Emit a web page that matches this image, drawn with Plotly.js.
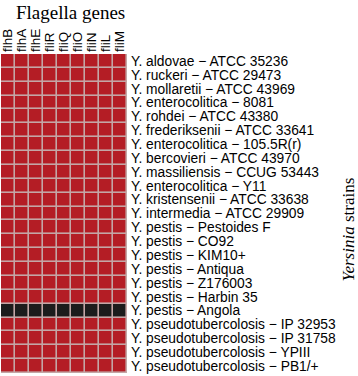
<!DOCTYPE html>
<html><head><meta charset="utf-8">
<script src="https://cdn.plot.ly/plotly-3.0.1.min.js"></script>
<style>html,body{margin:0;padding:0;background:#fff;}#chart{width:358px;height:376px;}</style>
</head><body><div id="chart"></div>
<script>
const genes = ["flhB","flhA","flhE","fliR","fliQ","fliO","fliN","fliL","fliM"];
const strains = [
  "Y. aldovae − ATCC 35236",
  "Y. ruckeri − ATCC 29473",
  "Y. mollaretii − ATCC 43969",
  "Y. enterocolitica − 8081",
  "Y. rohdei − ATCC 43380",
  "Y. frederiksenii − ATCC 33641",
  "Y. enterocolitica − 105.5R(r)",
  "Y. bercovieri − ATCC 43970",
  "Y. massiliensis − CCUG 53443",
  "Y. enterocolitica − Y11",
  "Y. kristensenii − ATCC 33638",
  "Y. intermedia − ATCC 29909",
  "Y. pestis − Pestoides F",
  "Y. pestis − CO92",
  "Y. pestis − KIM10+",
  "Y. pestis − Antiqua",
  "Y. pestis − Z176003",
  "Y. pestis − Harbin 35",
  "Y. pestis − Angola",
  "Y. pseudotubercolosis − IP 32953",
  "Y. pseudotubercolosis − IP 31758",
  "Y. pseudotubercolosis − YPIII",
  "Y. pseudotubercolosis − PB1/+"
];
// 1 = gene present, 0 = absent
const presence = [
  [1,1,1,1,1,1,1,1,1],
  [1,1,1,1,1,1,1,1,1],
  [1,1,1,1,1,1,1,1,1],
  [1,1,1,1,1,1,1,1,1],
  [1,1,1,1,1,1,1,1,1],
  [1,1,1,1,1,1,1,1,1],
  [1,1,1,1,1,1,1,1,1],
  [1,1,1,1,1,1,1,1,1],
  [1,1,1,1,1,1,1,1,1],
  [1,1,1,1,1,1,1,1,1],
  [1,1,1,1,1,1,1,1,1],
  [1,1,1,1,1,1,1,1,1],
  [1,1,1,1,1,1,1,1,1],
  [1,1,1,1,1,1,1,1,1],
  [1,1,1,1,1,1,1,1,1],
  [1,1,1,1,1,1,1,1,1],
  [1,1,1,1,1,1,1,1,1],
  [1,1,1,1,1,1,1,1,1],
  [0,0,0,0,0,0,0,0,0],
  [1,1,1,1,1,1,1,1,1],
  [1,1,1,1,1,1,1,1,1],
  [1,1,1,1,1,1,1,1,1],
  [1,1,1,1,1,1,1,1,1]
];

const trace = {
  type: "heatmap",
  x: genes,
  y: strains,
  z: presence,
  zmin: 0, zmax: 1,
  colorscale: [[0, "#1c1c1c"], [0.5, "#1c1c1c"], [0.5, "#b41d25"], [1, "#b41d25"]],
  showscale: false,
  xgap: 1.6, ygap: 1.6,
  hoverinfo: "x+y"
};

const layout = {
  width: 358, height: 376,
  margin: {l: 1, r: 231, t: 54, b: 3, pad: 0},
  paper_bgcolor: "#ffffff",
  plot_bgcolor: "#c4a6a6",
  showlegend: false,
  xaxis: {
    side: "top", type: "category",
    tickmode: "array", tickvals: genes, ticktext: genes,
    tickangle: -90, ticks: "",
    tickfont: {family: "Liberation Sans, Arial, sans-serif", size: 13.5, color: "#000"},
    showgrid: false, zeroline: false, showline: false,
    ticklabelstandoff: 1
  },
  yaxis: {
    side: "right", type: "category",
    tickmode: "array", tickvals: strains, ticktext: strains,
    autorange: "reversed", ticks: "",
    tickfont: {family: "Liberation Sans, Arial, sans-serif", size: 13.8, color: "#000"},
    showgrid: false, zeroline: false, showline: false,
    ticklabelstandoff: 3
  },
  annotations: [
    {
      text: "Flagella genes", xref: "paper", yref: "paper",
      x: 0.55, y: 1, yshift: 42, xanchor: "center", yanchor: "middle",
      showarrow: false,
      font: {family: "Liberation Serif, Times New Roman, serif", size: 19, color: "#000"}
    },
    {
      text: "<i>Yersinia</i> strains", xref: "paper", yref: "paper",
      x: 1, xshift: 221, y: 0.45, xanchor: "center", yanchor: "middle",
      textangle: -90, showarrow: false,
      font: {family: "Liberation Serif, Times New Roman, serif", size: 17, color: "#000"}
    }
  ]
};

Plotly.newPlot("chart", [trace], layout, {displayModeBar: false, staticPlot: true});
</script></body></html>
